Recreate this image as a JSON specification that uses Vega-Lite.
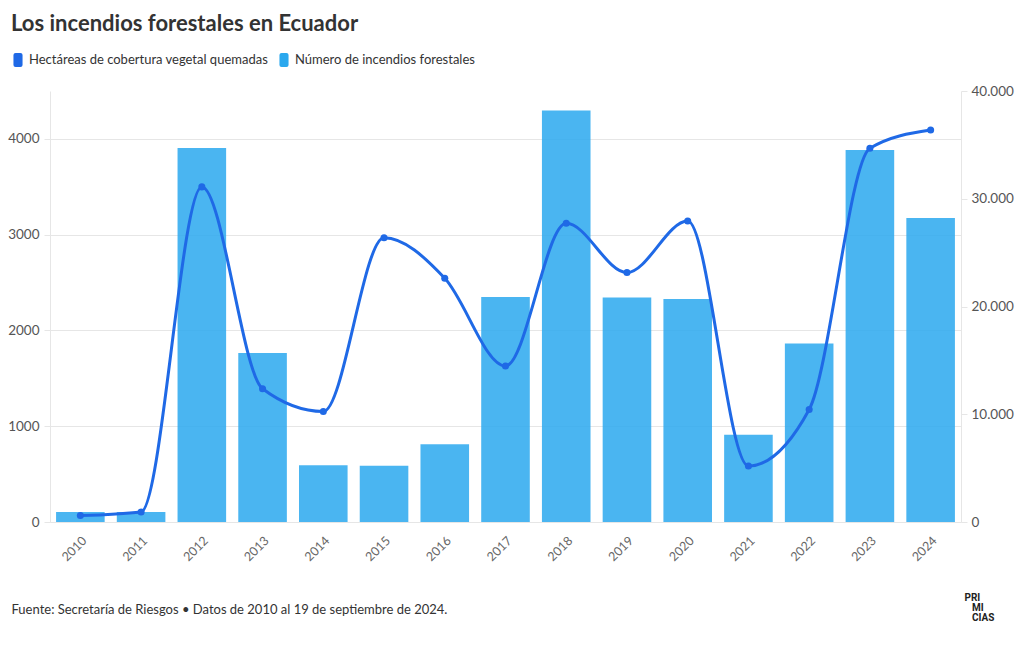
{
  "$schema": "https://vega.github.io/schema/vega-lite/v6.json",
  "width": 911,
  "height": 431,
  "autosize": {"type": "none"},
  "padding": {"left": 50, "top": 91, "right": 59, "bottom": 128},
  "background": "white",
  "config": {"view": {"stroke": null}, "font": "Lato"},
  "title": {
    "text": "Los incendios forestales en Ecuador",
    "anchor": "start",
    "frame": "group",
    "dx": -39,
    "offset": 17,
    "fontSize": 22,
    "font": "Lato",
    "fontWeight": "bold",
    "color": "#333333"
  },
  "data": {
    "values": [
      {"year": "2010", "incendios": 104, "hectareas": 600},
      {"year": "2011", "incendios": 104, "hectareas": 930},
      {"year": "2012", "incendios": 3905, "hectareas": 31100},
      {"year": "2013", "incendios": 1765, "hectareas": 12360},
      {"year": "2014", "incendios": 592, "hectareas": 10250},
      {"year": "2015", "incendios": 587, "hectareas": 26380},
      {"year": "2016", "incendios": 813, "hectareas": 22620},
      {"year": "2017", "incendios": 2350, "hectareas": 14480},
      {"year": "2018", "incendios": 4296, "hectareas": 27720},
      {"year": "2019", "incendios": 2343, "hectareas": 23150},
      {"year": "2020", "incendios": 2329, "hectareas": 27930},
      {"year": "2021", "incendios": 911, "hectareas": 5200},
      {"year": "2022", "incendios": 1863, "hectareas": 10440},
      {"year": "2023", "incendios": 3883, "hectareas": 34690},
      {"year": "2024", "incendios": 3175, "hectareas": 36380}
    ]
  },
  "encoding": {
    "x": {
      "field": "year",
      "type": "ordinal",
      "sort": null,
      "scale": {"paddingInner": 0.2, "paddingOuter": 0.1},
      "axis": {
        "title": "Fuente: Secretaría de Riesgos • Datos de 2010 al 19 de septiembre de 2024.",
        "titleAnchor": "start",
        "titleAlign": "left",
        "titleX": -39,
        "titleY": 91,
        "titleBaseline": "alphabetic",
        "titleFont": "Lato",
        "titleFontSize": 13,
        "titleFontWeight": "normal",
        "titleColor": "#333333",
        "labelAngle": -45,
        "labelFont": "Lato",
        "labelFontSize": 12.5,
        "labelColor": "#666666",
        "labelPadding": 12,
        "ticks": false,
        "domainColor": "#e6e6e6",
        "grid": false
      }
    }
  },
  "layer": [
    {
      "mark": {"type": "bar", "opacity": 0.85},
      "encoding": {
        "y": {
          "field": "incendios",
          "type": "quantitative",
          "scale": {"domain": [0, 4500], "nice": false},
          "axis": {
            "orient": "left",
            "title": null,
            "values": [0, 1000, 2000, 3000, 4000],
            "format": "d",
            "grid": true,
            "gridColor": "#e6e6e6",
            "domain": true,
            "domainColor": "#e6e6e6",
            "tickColor": "#e6e6e6",
            "tickSize": 6,
            "labelFont": "Lato",
            "labelFontSize": 13.5,
            "labelColor": "#555555",
            "labelPadding": 5
          }
        },
        "color": {
          "datum": "Número de incendios forestales",
          "type": "nominal",
          "scale": {
            "domain": ["Hectáreas de cobertura vegetal quemadas", "Número de incendios forestales"],
            "range": ["#1f69e6", "#2aa8ee"]
          },
          "legend": {
            "orient": "none",
            "legendX": -39,
            "legendY": -38,
            "direction": "horizontal",
            "title": null,
            "labelFont": "Lato",
            "labelFontSize": 13,
            "labelColor": "#333333",
            "labelLimit": 400,
            "symbolType": "M -0.35 -1 L 0.35 -1 Q 0.65 -1 0.65 -0.7 L 0.65 0.7 Q 0.65 1 0.35 1 L -0.35 1 Q -0.65 1 -0.65 0.7 L -0.65 -0.7 Q -0.65 -1 -0.35 -1 Z",
            "symbolSize": 196,
            "symbolStrokeWidth": 0,
            "symbolOpacity": 1,
            "labelOffset": 4,
            "columnPadding": 8
          }
        }
      }
    },
    {
      "mark": {
        "type": "line",
        "interpolate": "monotone",
        "strokeWidth": 3,
        "point": {"size": 50, "filled": true}
      },
      "encoding": {
        "y": {
          "field": "hectareas",
          "type": "quantitative",
          "scale": {"domain": [0, 40000], "nice": false},
          "axis": {
            "orient": "right",
            "title": ["PRI", "\u200b\u00a0\u00a0\u00a0MI", "\u200b\u00a0\u00a0\u00a0CIAS"],
            "titleAngle": 0,
            "titleAlign": "left",
            "titleBaseline": "top",
            "titleX": 3,
            "titleY": 501,
            "titleFont": "Roboto",
            "titleFontSize": 10,
            "titleFontWeight": "bold",
            "titleColor": "#222222",
            "titleLineHeight": 10,
            "values": [0, 10000, 20000, 30000, 40000],
            "labelExpr": "replace(format(datum.value, ',d'), ',', '.')",
            "grid": false,
            "domain": true,
            "domainColor": "#e6e6e6",
            "tickColor": "#e6e6e6",
            "tickSize": 6,
            "labelFont": "Lato",
            "labelFontSize": 13.5,
            "labelColor": "#555555",
            "labelPadding": 4
          }
        },
        "color": {"datum": "Hectáreas de cobertura vegetal quemadas", "type": "nominal"}
      }
    }
  ],
  "resolve": {"scale": {"y": "independent"}}
}
